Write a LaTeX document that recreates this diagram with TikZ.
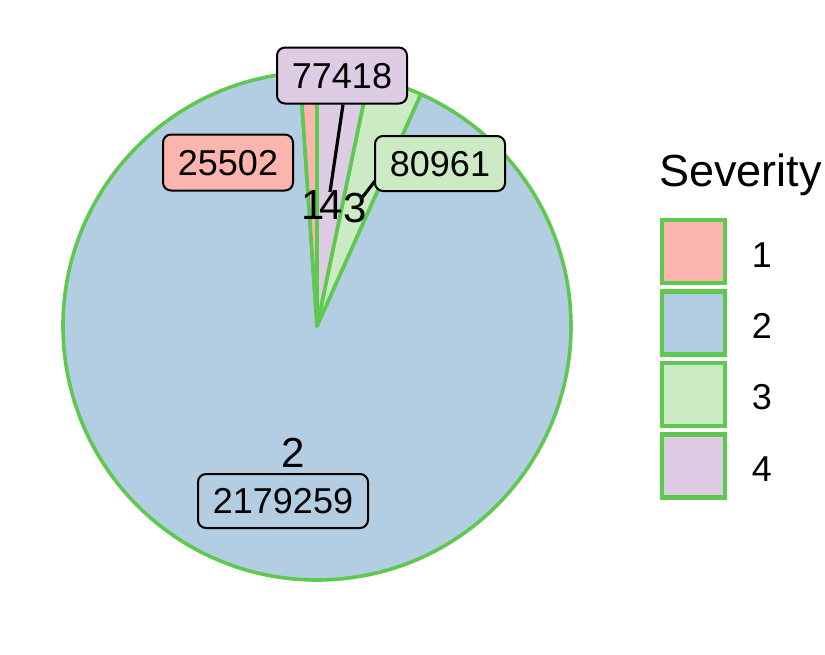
\documentclass[tikz,border=0pt]{standalone}
\usepackage{fontspec}
\setmainfont{Liberation Sans}
\definecolor{pRed}{HTML}{FBB4AE}
\definecolor{pBlue}{HTML}{B3CDE3}
\definecolor{pGreen}{HTML}{CCEBC5}
\definecolor{pPurple}{HTML}{DECBE4}
\definecolor{edgeGreen}{RGB}{94,200,80}
\begin{document}
\begin{tikzpicture}[x=1pt,y=-1pt,
  slice/.style={draw=edgeGreen,line width=3.6pt,line join=round},
  lab/.style={draw=black,line width=2pt,rounded corners=8pt,font=\fontsize{36}{36}\selectfont,inner sep=0pt,text depth=0pt},
  big/.style={font=\fontsize{42}{42}\selectfont,inner sep=0pt},
  key/.style={draw=edgeGreen,line width=4.2pt,minimum width=63pt,minimum height=63pt,inner sep=0pt},
  keytxt/.style={font=\fontsize{36}{36}\selectfont,inner sep=0pt},
  seg/.style={draw=black,line width=3.2pt}]
\useasboundingbox (0,0) rectangle (825,654);
\coordinate (c) at (317,326);
\def\R{254}
\filldraw[slice,fill=pBlue] (c) -- ([shift={(317pt,-326pt)}]93.885:\R pt) arc[start angle=93.885,end angle=425.873,radius=\R pt] -- cycle;
\filldraw[slice,fill=pRed] (c) -- ([shift={(317pt,-326pt)}]90:\R pt) arc[start angle=90,end angle=93.885,radius=\R pt] -- cycle;
\filldraw[slice,fill=pGreen] (c) -- ([shift={(317pt,-326pt)}]65.873:\R pt) arc[start angle=65.873,end angle=78.206,radius=\R pt] -- cycle;
\filldraw[slice,fill=pPurple] (c) -- ([shift={(317pt,-326pt)}]78.206:\R pt) arc[start angle=78.206,end angle=90,radius=\R pt] -- cycle;
% big labels
\node[big] (t1) at (313,205) {1};
\node[big] (t4) at (331,205) {4};
\node[big] (t3) at (355,208) {3};
\node[big] (t2) at (293,453) {2};
% label boxes
\node[lab,fill=pPurple,minimum width=130pt,minimum height=56pt] (b4) at (342,75.5) {77418};
\node[lab,fill=pRed,minimum width=130pt,minimum height=56pt] (b1) at (228,162.5) {25502};
\node[lab,fill=pGreen,minimum width=130pt,minimum height=55pt] (b3) at (440,163.5) {80961};
\node[lab,fill=pBlue,minimum width=170pt,minimum height=54pt] (b2) at (283,501) {2179259};
% segments
\coordinate (s4) at (330,192);
\coordinate (s3) at (361,199);
\coordinate (e3) at (375,181);
\draw[seg] (b4.south -| 343,0) -- (s4);
\draw[seg] (e3) -- (s3);
% legend
\node[anchor=west,font=\fontsize{45}{45}\selectfont,inner sep=0pt] (lt) at (659,175) {Severity};
\node[key,fill=pRed] (k1) at (693.5,251.5) {};
\node[key,fill=pBlue] (k2) at (693.5,323) {};
\node[key,fill=pGreen] (k3) at (693.5,394.5) {};
\node[key,fill=pPurple] (k4) at (693.5,466) {};
\node[keytxt] (l1) at (762,255) {1};
\node[keytxt] (l2) at (762,326) {2};
\node[keytxt] (l3) at (762,397) {3};
\node[keytxt] (l4) at (762,469) {4};
\end{tikzpicture}
\end{document}
